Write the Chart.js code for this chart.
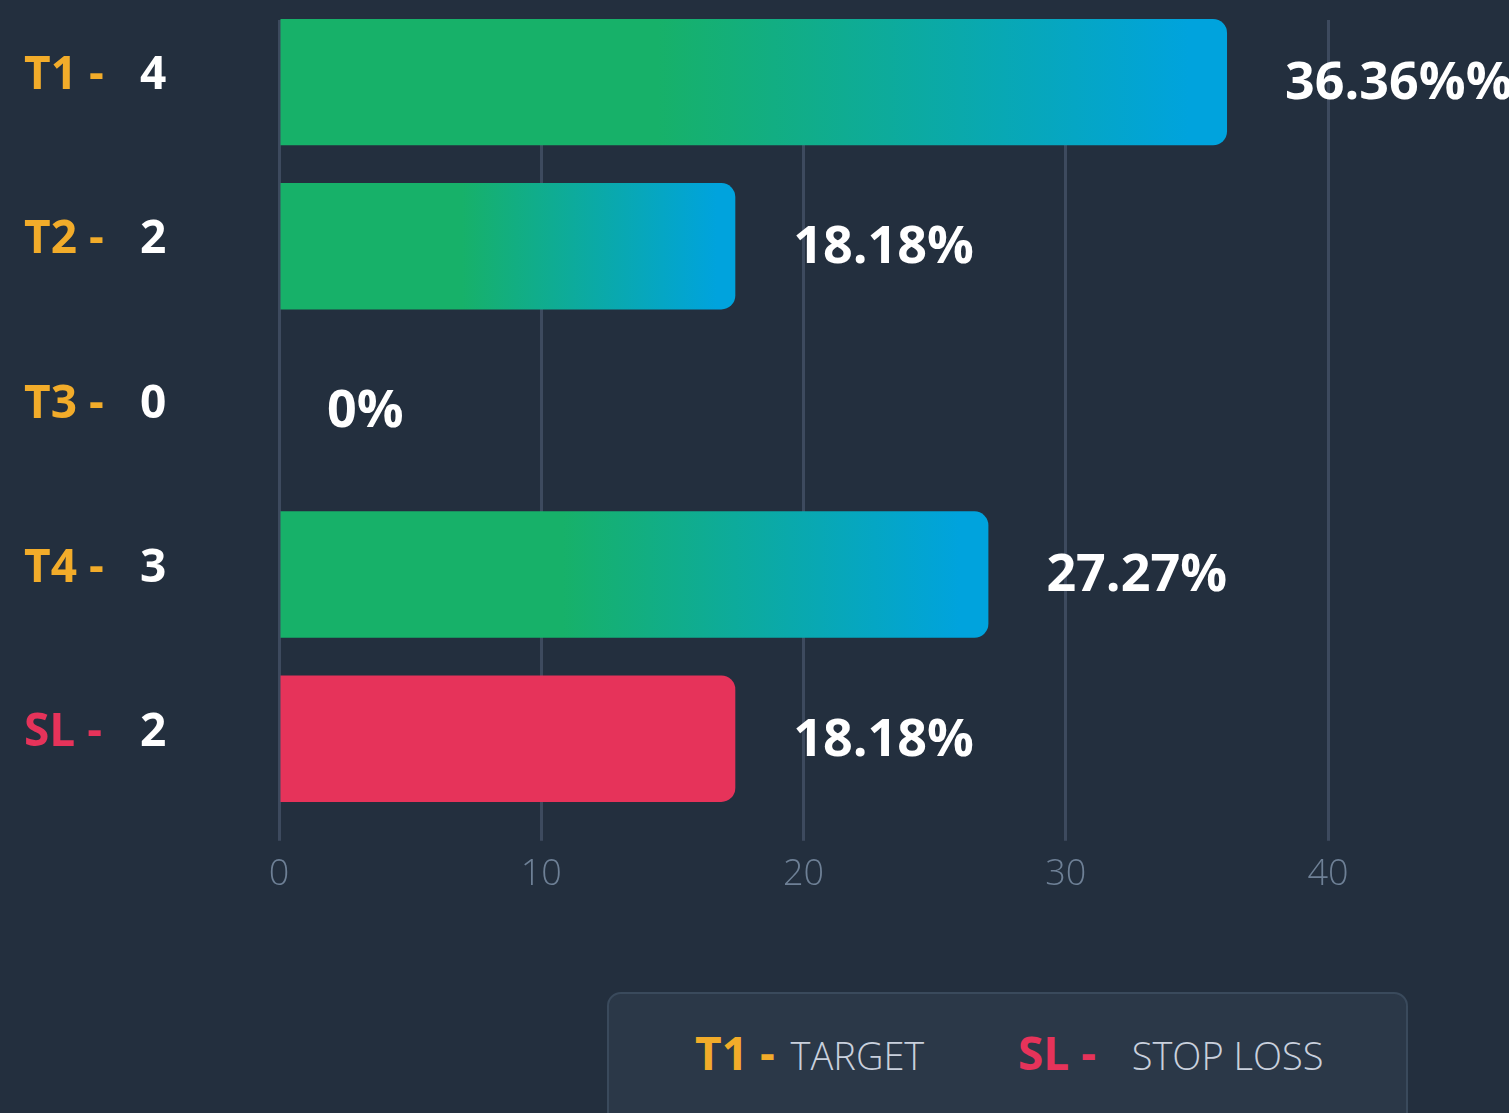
<!DOCTYPE html>
<html lang="en">
<head>
<meta charset="utf-8">
<title>Targets</title>
<script src="https://cdn.jsdelivr.net/npm/chart.js@4.4.1/dist/chart.umd.min.js"></script>
<style>
  html, body { margin: 0; padding: 0; background: #232f3e; width: 1509px; height: 1113px; overflow: hidden; font-family: "Open Sans", sans-serif; }
  #wrap { position: absolute; left: 0; top: 0; width: 1509px; height: 908px; }
  #legend { position: absolute; left: 607px; top: 992px; width: 801px; height: 140px; background: #2b3848; border: 2px solid #3a4a5c; border-radius: 14px; box-sizing: border-box; }
  #legend span.item { position: absolute; top: 32px; white-space: nowrap; font-size: 38px; line-height: 52px; }
  #legend b { font-size: 46px; font-weight: 700; margin-right: 6px; }
  .txt { color: #c9d0dd; font-weight: 300; }
</style>
</head>
<body>
<div id="wrap"><canvas id="chart"></canvas></div>
<div id="legend">
  <span class="item" style="left:86px"><b style="color:#f2ac2a">T1 -</b> <span class="txt">TARGET</span></span>
  <span class="item" style="left:409px"><b style="color:#e6335a">SL -</b>&nbsp;&nbsp; <span class="txt">STOP LOSS</span></span>
</div>
<script>
// data
var targets = ['T1', 'T2', 'T3', 'T4', 'SL'];
var counts = [4, 2, 0, 3, 2];
var barValues = [36.15, 17.4, 0, 27.05, 17.4];
var pctLabels = ['36.36%%', '18.18%', '0%', '27.27%', '18.18%'];
var xTicks = [0, 10, 20, 30, 40];

var BG = '#232f3e', GREEN = '#17b169', BLUE = '#00a3dd', RED = '#e6335a', ORANGE = '#f2ac2a';

function barColor(ctx) {
  if (targets[ctx.dataIndex] == 'SL') return RED;
  var chart = ctx.chart;
  if (!chart.chartArea || !chart.scales.x) return GREEN;
  var x0 = chart.scales.x.getPixelForValue(0);
  var x1 = chart.scales.x.getPixelForValue(ctx.raw);
  if (x1 - x0 < 2) return GREEN;
  var g = chart.ctx.createLinearGradient(x0, 0, x1, 0);
  g.addColorStop(0, GREEN);
  g.addColorStop(0.4, GREEN);
  g.addColorStop(0.96, BLUE);
  g.addColorStop(1, BLUE);
  return g;
}

// grid lines start a little below the top edge
var trimGrid = {
  id: 'trimGrid',
  beforeDatasetsDraw: function (chart) {
    var c = chart.ctx, a = chart.chartArea;
    c.save();
    c.fillStyle = BG;
    c.fillRect(a.left - 5, 0, a.right - a.left + 10, a.top + 20);
    c.restore();
  }
};

// y labels "T1 -  4" in two colours
var yLabels = {
  id: 'yLabels',
  afterDraw: function (chart) {
    var c = chart.ctx, y = chart.scales.y;
    c.save();
    c.font = 'bold 46px "Open Sans"';
    c.textBaseline = 'middle';
    targets.forEach(function (t, i) {
      var py = y.getPixelForTick(i) - 6;
      c.fillStyle = t == 'SL' ? RED : ORANGE;
      c.textAlign = 'left';
      c.fillText(t + ' -', 24, py);
      c.fillStyle = '#ffffff';
      c.fillText(String(counts[i]), 140, py);
    });
    c.restore();
  }
};

// percentage text after each bar
var pctText = {
  id: 'pctText',
  afterDatasetsDraw: function (chart) {
    var c = chart.ctx, meta = chart.getDatasetMeta(0);
    c.save();
    c.font = 'bold 52px "Open Sans"';
    c.fillStyle = '#ffffff';
    c.textBaseline = 'middle';
    c.textAlign = 'left';
    meta.data.forEach(function (bar, i) {
      var gap = barValues[i] > 0 ? 58 : 48;
      c.fillText(pctLabels[i], bar.x + gap, bar.y + 2);
    });
    c.restore();
  }
};

new Chart(document.getElementById('chart'), {
  type: 'bar',
  data: {
    labels: targets,
    datasets: [{
      data: barValues,
      backgroundColor: barColor,
      borderRadius: 14,
      borderSkipped: 'start',
      barPercentage: 0.77,
      categoryPercentage: 1
    }]
  },
  options: {
    indexAxis: 'y',
    responsive: true,
    maintainAspectRatio: false,
    animation: false,
    layout: { padding: { left: 279, right: 181, top: 0, bottom: 0 } },
    plugins: { legend: { display: false }, tooltip: { enabled: false } },
    scales: {
      x: {
        min: 0,
        max: 40,
        afterBuildTicks: function (s) { s.ticks = xTicks.map(function (v) { return { value: v }; }); },
        grid: { color: '#3d4a5e', lineWidth: 3, tickLength: 20, tickColor: '#3d4a5e' },
        border: { display: false },
        ticks: { color: '#6e8096', padding: 12, font: { family: 'Open Sans', size: 36, weight: '300' } }
      },
      y: {
        display: false
      }
    }
  },
  plugins: [trimGrid, yLabels, pctText]
});
</script>
</body>
</html>
